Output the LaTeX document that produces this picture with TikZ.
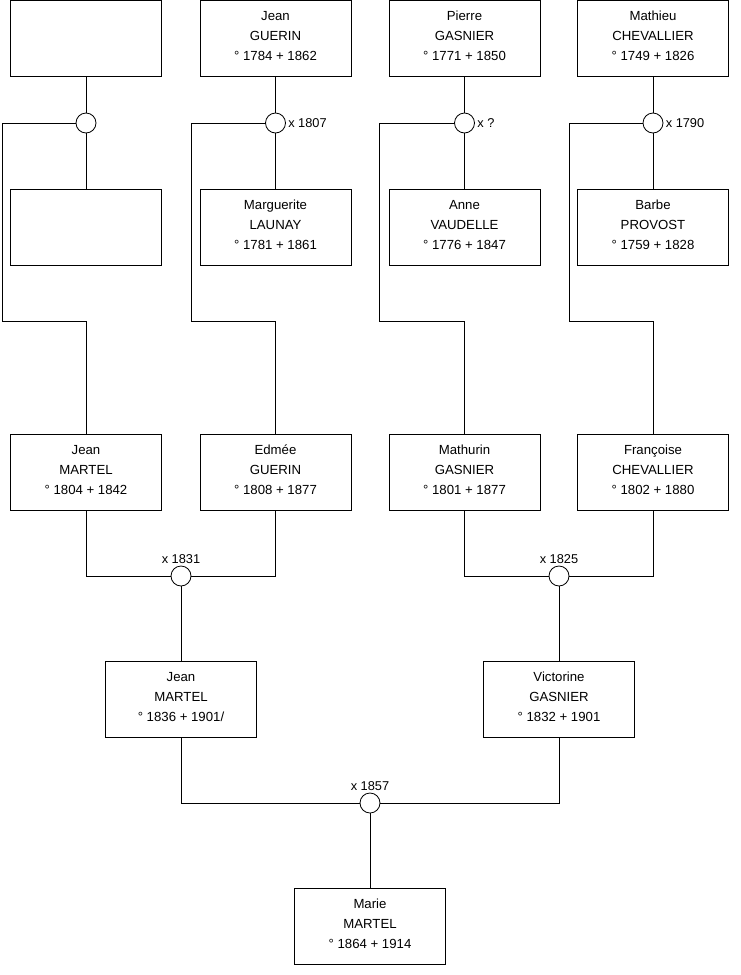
\documentclass[tikz,border=0pt]{standalone}
\usepackage{fontspec}
\setmainfont{Liberation Sans}

\begin{document}
\begin{tikzpicture}[x=1pt, y=-1pt, line width=0.8pt,
    personne/.style={draw, minimum width=151pt, minimum height=76pt, inner sep=0pt,
        align=center, font=\fontsize{13.2}{20}\selectfont,
        execute at end node={\rule[-5pt]{0pt}{5pt}}},
    union/.style={draw, circle, fill=white, minimum size=20pt, inner sep=0pt},
    every label/.style={font=\fontsize{12.8}{15}\selectfont, inner sep=2pt}]
    \useasboundingbox (0,0) rectangle (740,975);

    % arrière-grands-parents : maris
    \node[personne] (h1) at (86,38) {};
    \node[personne] (h2) at (275.5,38) {Jean\\GUERIN\\° 1784 + 1862};
    \node[personne] (h3) at (464.5,38) {Pierre\\GASNIER\\° 1771 + 1850};
    \node[personne] (h4) at (653,38) {Mathieu\\CHEVALLIER\\° 1749 + 1826};

    % arrière-grands-parents : épouses
    \node[personne] (w1) at (86,227) {};
    \node[personne] (w2) at (275.5,227) {Marguerite\\LAUNAY\\° 1781 + 1861};
    \node[personne] (w3) at (464.5,227) {Anne\\VAUDELLE\\° 1776 + 1847};
    \node[personne] (w4) at (653,227) {Barbe\\PROVOST\\° 1759 + 1828};

    % mariages
    \node[union] (m1) at (86,123) {};
    \node[union, label={right:x 1807}] (m2) at (275.5,123) {};
    \node[union, label={right:x ?}] (m3) at (464.5,123) {};
    \node[union, label={right:x 1790}] (m4) at (653,123) {};

    % coudes des lignes de filiation
    \coordinate (k1) at (2,321);
    \coordinate (k2) at (191,321);
    \coordinate (k3) at (379,321);
    \coordinate (k4) at (569,321);

    % grands-parents
    \node[personne] (c1) at (86,472) {Jean\\MARTEL\\° 1804 + 1842};
    \node[personne] (c2) at (275.5,472) {Edmée\\GUERIN\\° 1808 + 1877};
    \node[personne] (c3) at (464.5,472) {Mathurin\\GASNIER\\° 1801 + 1877};
    \node[personne] (c4) at (653,472) {Françoise\\CHEVALLIER\\° 1802 + 1880};

    \foreach \i in {1,...,4} {
        \draw (h\i) -- (m\i) -- (w\i);
        \draw (m\i.west) -| (k\i) -| (c\i.north);
    }

    % parents
    \node[union, label={above:x 1831}] (m5) at (181,576) {};
    \node[union, label={above:x 1825}] (m6) at (559,576) {};
    \node[personne] (p1) at (181,699.5) {Jean\\MARTEL\\° 1836 + 1901/};
    \node[personne] (p2) at (559,699.5) {Victorine\\GASNIER\\° 1832 + 1901};

    \draw (c1.south) |- (m5.west);
    \draw (c2.south) |- (m5.east);
    \draw (m5) -- (p1);
    \draw (c3.south) |- (m6.west);
    \draw (c4.south) |- (m6.east);
    \draw (m6) -- (p2);

    % Marie
    \node[union, label={above:x 1857}] (m7) at (370,803) {};
    \node[personne] (marie) at (370,926) {Marie\\MARTEL\\° 1864 + 1914};

    \draw (p1.south) |- (m7.west);
    \draw (p2.south) |- (m7.east);
    \draw (m7) -- (marie);
\end{tikzpicture}
\end{document}
